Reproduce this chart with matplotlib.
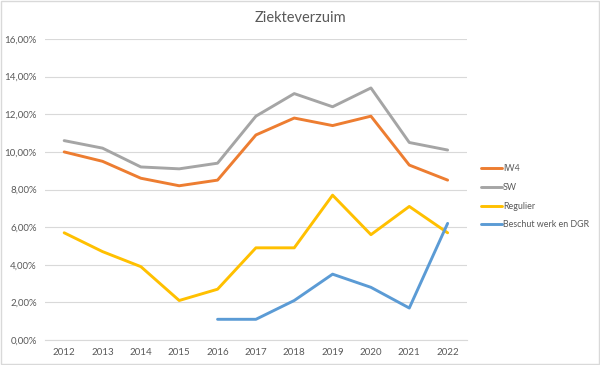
import numpy as np
import matplotlib.pyplot as plt
from matplotlib.ticker import FuncFormatter

# jaren en verzuimpercentages
jaren = [2012, 2013, 2014, 2015, 2016, 2017, 2018, 2019, 2020, 2021, 2022]
iw4 = [10.0, 9.5, 8.6, 8.2, 8.5, 10.9, 11.8, 11.4, 11.9, 9.3, 8.5]
sw = [10.6, 10.2, 9.2, 9.1, 9.4, 11.9, 13.1, 12.4, 13.4, 10.5, 10.1]
regulier = [5.7, 4.7, 3.9, 2.1, 2.7, 4.9, 4.9, 7.7, 5.6, 7.1, 5.7]
beschut = [np.nan, np.nan, np.nan, np.nan, 1.1, 1.1, 2.1, 3.5, 2.8, 1.7, 6.2]

reeksen = [
    ('IW4', iw4, '#ED7D31'),
    ('SW', sw, '#A5A5A5'),
    ('Regulier', regulier, '#FFC000'),
    ('Beschut werk en DGR', beschut, '#5B9BD5'),
]

plt.rcParams['font.family'] = ['Lato', 'DejaVu Sans']
tekstkleur = '#595959'

fig = plt.figure(figsize=(6, 3.65), dpi=100)
ax = fig.add_axes([0.075, 0.0685, 0.703, 0.8245])

x = np.arange(len(jaren))
for naam, waarden, kleur in reeksen:
    ax.plot(x, waarden, color=kleur, lw=2.1, label=naam, solid_capstyle='round')

ax.set_xlim(-0.5, len(jaren) - 0.5)
ax.set_ylim(0, 16)
ax.set_yticks(np.arange(0, 17, 2))
ax.yaxis.set_major_formatter(FuncFormatter(lambda v, p: f"{v:.2f}%".replace('.', ',')))
ax.set_xticks(x)
ax.set_xticklabels([str(j) for j in jaren])
ax.grid(axis='y', color='#d9d9d9', lw=0.8)
ax.set_axisbelow(True)
for kant in ['top', 'right', 'left']:
    ax.spines[kant].set_visible(False)
ax.spines['bottom'].set_color('#d9d9d9')
ax.tick_params(axis='both', length=0, labelsize=7, colors=tekstkleur)
ax.tick_params(axis='x', pad=6)
ax.tick_params(axis='y', pad=6)

fig.text(0.5, 0.95, 'Ziekteverzuim', ha='center', va='center', fontsize=10.5, color=tekstkleur)

fig.legend(loc='upper left', bbox_to_anchor=(0.795, 0.56), frameon=False,
           fontsize=6.4, labelcolor=tekstkleur, handlelength=2.4, handletextpad=0.1,
           labelspacing=1.1, borderaxespad=0)

# lichtgrijze rand rond de grafiek
fig.patches.append(plt.Rectangle((0.001, 0.002), 0.997, 0.995, transform=fig.transFigure,
                                 fill=False, edgecolor='#d9d9d9', lw=1))

fig.savefig('out.png', dpi=100)
